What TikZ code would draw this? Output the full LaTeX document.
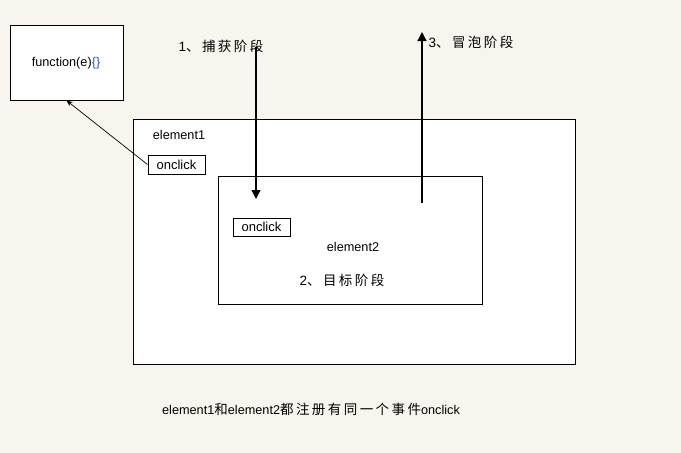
\documentclass[tikz,border=0pt]{standalone}
\usepackage{fontspec}
\setmainfont{Liberation Sans}
\newfontfamily\cjk[LetterSpace=18]{Noto Sans CJK SC}
\usetikzlibrary{arrows.meta}
\definecolor{bgc}{RGB}{248,245,238}
\definecolor{fnblue}{RGB}{30,90,200}
\begin{document}
\begin{tikzpicture}[x=1pt,y=-1pt,
  box/.style={draw=black,line width=1pt,fill=white},
  tagbox/.style={draw=black,line width=1pt,fill=white,minimum width=57pt,inner sep=0pt},
  lbl/.style={font=\fontsize{12.7}{14}\selectfont,inner sep=0pt},
  clbl/.style={font=\fontsize{13.5}{15}\selectfont,inner sep=0pt},
  bigarrow/.style={line width=1.2pt,-{Triangle[length=9pt,width=9pt]}},
  thinarrow/.style={line width=0.7pt,-{Stealth[length=6pt,width=5pt]}}]
\fill[bgc] (0,0) rectangle (681,453);
\useasboundingbox (0,0) rectangle (681,453);
% boxes
\node[box,minimum width=113pt,minimum height=75pt,inner sep=0pt] (fbox) at (66.5,62.5) {};
\node[lbl] (ftext) at (66,63) {function(e)\textcolor{fnblue}{\{\}}};
\node[box,minimum width=442pt,minimum height=245pt,inner sep=0pt] (e1) at (354,241.5) {};
\node[lbl] (e1l) at (179,135) {element1};
\node[tagbox,minimum height=19pt] (on1) at (176.5,164.5) {\fontsize{13}{14}\selectfont onclick};
\node[box,minimum width=264pt,minimum height=128pt,inner sep=0pt] (e2) at (350,240) {};
\node[tagbox,minimum height=18pt] (on2) at (261.5,227) {\fontsize{13}{14}\selectfont onclick};
\node[lbl] (e2l) at (353,247) {element2};
\node[clbl] (p2) at (342,280) {2\cjk 、目标阶段};
% arrows
\coordinate (c1) at (256,47);
\coordinate (c2) at (256,199);
\coordinate (b1) at (422,203);
\coordinate (b2) at (422,32);
\draw[bigarrow] (c1) -- (c2);
\draw[bigarrow] (b1) -- (b2);
\node[clbl] (p1) at (221,46) {1\cjk 、捕获阶段};
\node[clbl] (p3) at (471,42) {3\cjk 、冒泡阶段};
\draw[thinarrow] (on1.west) -- (fbox.south);
\node[lbl] (note) at (311,409) {element1{\cjk\fontsize{13.5}{15}\selectfont 和}element2{\cjk\fontsize{13.5}{15}\selectfont 都注册有同一个事件}onclick};
\end{tikzpicture}
\end{document}
